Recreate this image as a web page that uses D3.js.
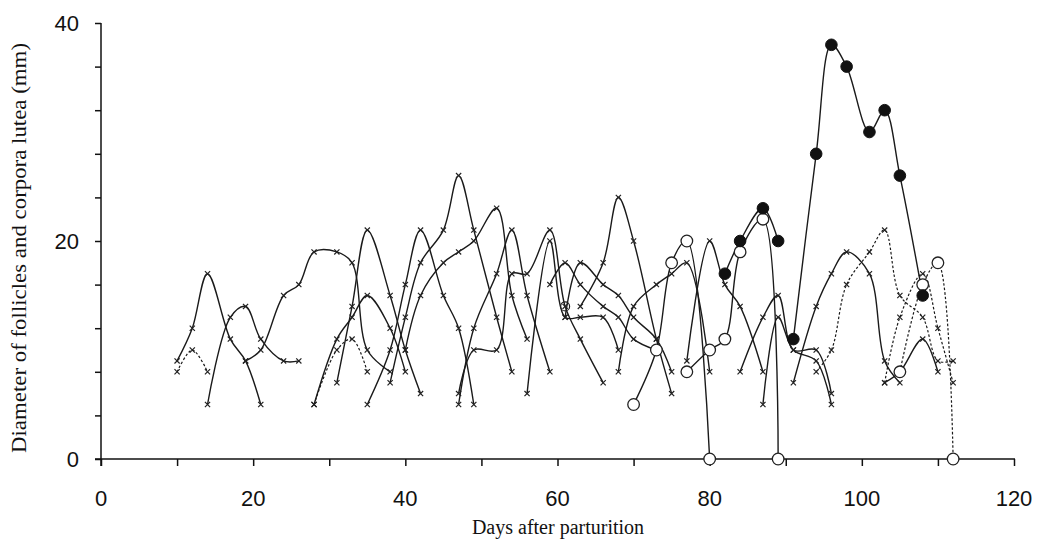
<!DOCTYPE html>
<html>
<head>
<meta charset="utf-8">
<script src="https://cdn.jsdelivr.net/npm/d3@7"></script>
<style>
  html, body { margin: 0; padding: 0; background: #fff; }
  svg { display: block; }
  .tick-label { font-family: "Liberation Sans", Arial, sans-serif; font-size: 22px; fill: #111; }
  .axis-title { font-family: "Liberation Serif", "Times New Roman", serif; font-size: 20px; fill: #111; }
</style>
</head>
<body>
<div id="chart"></div>
<script>
// Follicle / corpus luteum waves, each as [day, diameter mm]
const waveDashA = [[10,8],[12,10],[14,8]];
const waveA = [[10,9],[12,12],[14,17],[17,11],[19,9],[21,5]];
const waveB = [[14,5],[17,13],[19,14],[21,11],[24,9],[26,9]];
const waveC = [[19,9],[21,10],[24,15],[26,16],[28,19],[31,19],[33,18],[35,10],[38,8]];
const waveDashB = [[28,5],[31,10],[33,11],[35,8]];
const waveD = [[28,5],[31,11],[33,13],[35,15],[38,12],[40,8]];
const waveE = [[31,7],[33,14],[35,21],[38,15],[40,10],[42,6]];
const waveF = [[35,5],[38,10],[40,16],[42,21],[45,15],[47,12],[49,5]];
const waveG = [[38,7],[40,13],[42,18],[45,21],[47,26],[49,21],[52,13],[54,8]];
const waveH = [[40,10],[42,15],[45,18],[47,19],[49,20],[52,23],[54,15],[56,11]];
const waveI = [[47,5],[49,12],[52,17],[54,21],[56,15],[59,8]];
const waveJ = [[47,6],[49,10],[52,10],[54,17],[56,17],[59,21],[61,14],[63,11],[66,7]];
const waveK = [[56,6],[59,20],[61,13],[63,13],[66,13],[68,10]];
const waveL = [[59,16],[61,18],[63,16],[66,14],[68,13],[70,11],[73,10]];
const waveM = [[61,13],[63,18],[66,16],[68,15],[70,13],[73,11],[75,8]];
const waveN = [[63,14],[66,18],[68,24],[70,20],[73,11],[75,6]];
const waveO = [[68,8],[70,14],[73,16],[75,17],[77,18],[80,8]];
const waveP = [[77,9],[80,20],[82,16],[84,14],[87,8]];
const waveQ = [[84,8],[87,13],[89,15],[91,10],[94,10],[96,6]];
const waveR = [[87,5],[89,13],[91,10],[94,9],[96,5]];
const waveS = [[91,7],[94,14],[96,17],[98,19],[101,17],[103,9],[105,7]];
const waveDashC = [[94,8],[96,10],[98,16],[101,19],[103,21],[105,15],[108,13],[110,9],[112,9]];
const waveDashD = [[103,7],[105,13],[108,17],[110,12],[112,7]];
const waveT = [[103,7],[105,8],[108,11],[110,8]];
// corpora lutea (open circles) and dominant follicles (filled)
const luteumA = [[70,5],[73,10],[75,18],[77,20],[80,0]];
const luteumB = [[77,8],[80,10],[82,11],[84,19],[87,22],[89,0]];
const luteumDashC = [[105,8],[108,16],[110,18],[112,0]];
const follicleA = [[82,17],[84,20],[87,23],[89,20]];
const follicleB = [[91,11],[94,28],[96,38],[98,36],[101,30],[103,32],[105,26],[108,15]];
const extraRing = [[61,14]];

const xTicks = d3.range(0, 121, 10);
const xLabels = [0, 20, 40, 60, 80, 100, 120];
const yTicks = d3.range(0, 41, 4);
const yLabels = [0, 20, 40];

const series = [
  { pts: waveDashA, mark: 'x', dash: true },
  { pts: waveA, mark: 'x' }, { pts: waveB, mark: 'x' }, { pts: waveC, mark: 'x' },
  { pts: waveDashB, mark: 'x', dash: true },
  { pts: waveD, mark: 'x' }, { pts: waveE, mark: 'x' }, { pts: waveF, mark: 'x' },
  { pts: waveG, mark: 'x' }, { pts: waveH, mark: 'x' }, { pts: waveI, mark: 'x' },
  { pts: waveJ, mark: 'x' }, { pts: waveK, mark: 'x' }, { pts: waveL, mark: 'x' },
  { pts: waveM, mark: 'x' }, { pts: waveN, mark: 'x' }, { pts: waveO, mark: 'x' },
  { pts: waveP, mark: 'x' }, { pts: waveQ, mark: 'x' }, { pts: waveR, mark: 'x' },
  { pts: waveS, mark: 'x' },
  { pts: waveDashC, mark: 'x', dash: true }, { pts: waveDashD, mark: 'x', dash: true },
  { pts: waveT, mark: 'x' },
  { pts: luteumA, mark: 'open' }, { pts: luteumB, mark: 'open' },
  { pts: luteumDashC, mark: 'open', dash: true },
  { pts: follicleA, mark: 'filled' }, { pts: follicleB, mark: 'filled' }
];

const width = 1041, height = 543;
const svg = d3.select('#chart').append('svg').attr('width', width).attr('height', height);

const x = d3.scaleLinear().domain([0, 120]).range([101, 1014]);
const y = d3.scaleLinear().domain([0, 40]).range([459, 23]);

// Axes
const xAxisG = svg.append('g').attr('transform', `translate(0,${y(0)})`)
  .call(d3.axisBottom(x).tickValues(xTicks).tickSize(7).tickSizeOuter(0).tickFormat(''));
xAxisG.select('.domain').attr('d', `M${x(0) - 6},0H${x(120) + 1}`);
const yAxisG = svg.append('g').attr('transform', `translate(${x(0)},0)`)
  .call(d3.axisLeft(y).tickValues(yTicks).tickSize(6).tickSizeOuter(0).tickFormat(''));
yAxisG.select('.domain').attr('d', `M0,${y(40)}V${y(0) + 7}`);
svg.selectAll('.domain, .tick line').attr('stroke', '#111').attr('stroke-width', 1.5);

svg.selectAll('text.xl').data(xLabels).join('text')
  .attr('class', 'tick-label')
  .attr('x', d => x(d)).attr('y', 506)
  .attr('text-anchor', 'middle').text(d => d);
svg.selectAll('text.yl').data(yLabels).join('text')
  .attr('class', 'tick-label')
  .attr('x', 79).attr('y', d => y(d) + 8)
  .attr('text-anchor', 'end').text(d => d);

svg.append('text').attr('class', 'axis-title')
  .attr('x', 558).attr('y', 534).attr('text-anchor', 'middle')
  .text('Days after parturition');
svg.append('text').attr('class', 'axis-title')
  .attr('transform', 'translate(26,248) rotate(-90)').attr('text-anchor', 'middle')
  .style('font-size', '22px')
  .attr('textLength', 410).attr('lengthAdjust', 'spacingAndGlyphs')
  .text('Diameter of follicles and corpora lutea (mm)');

// Lines
const line = d3.line().x(d => x(d[0])).y(d => y(d[1])).curve(d3.curveCatmullRom.alpha(0.5));
const plot = svg.append('g');
plot.selectAll('path.wave').data(series).join('path')
  .attr('class', 'wave')
  .attr('d', d => line(d.pts))
  .attr('fill', 'none')
  .attr('stroke', '#1a1a1a')
  .attr('stroke-width', d => d.dash ? 1.2 : 1.4)
  .attr('stroke-dasharray', d => d.dash ? '2.5,2' : null);

// Markers
const xs = series.filter(s => s.mark === 'x').flatMap(s => s.pts);
plot.selectAll('path.xm').data(xs).join('path')
  .attr('class', 'xm')
  .attr('transform', d => `translate(${x(d[0])},${y(d[1])})`)
  .attr('d', 'M-2.6,-2.6L2.6,2.6M-2.6,2.6L2.6,-2.6')
  .attr('stroke', '#222').attr('stroke-width', 1.2);

plot.selectAll('circle.ring').data(extraRing).join('circle')
  .attr('class', 'ring')
  .attr('cx', d => x(d[0])).attr('cy', d => y(d[1])).attr('r', 4.5)
  .attr('fill', 'none').attr('stroke', '#222').attr('stroke-width', 1.2);

const opens = series.filter(s => s.mark === 'open').flatMap(s => s.pts);
plot.selectAll('circle.open').data(opens).join('circle')
  .attr('class', 'open')
  .attr('cx', d => x(d[0])).attr('cy', d => y(d[1])).attr('r', 5.8)
  .attr('fill', '#fff').attr('stroke', '#222').attr('stroke-width', 1.3);

const filled = series.filter(s => s.mark === 'filled').flatMap(s => s.pts);
plot.selectAll('circle.filled').data(filled).join('circle')
  .attr('class', 'filled')
  .attr('cx', d => x(d[0])).attr('cy', d => y(d[1])).attr('r', 5.8)
  .attr('fill', '#111').attr('stroke', '#111');
</script>
</body>
</html>
